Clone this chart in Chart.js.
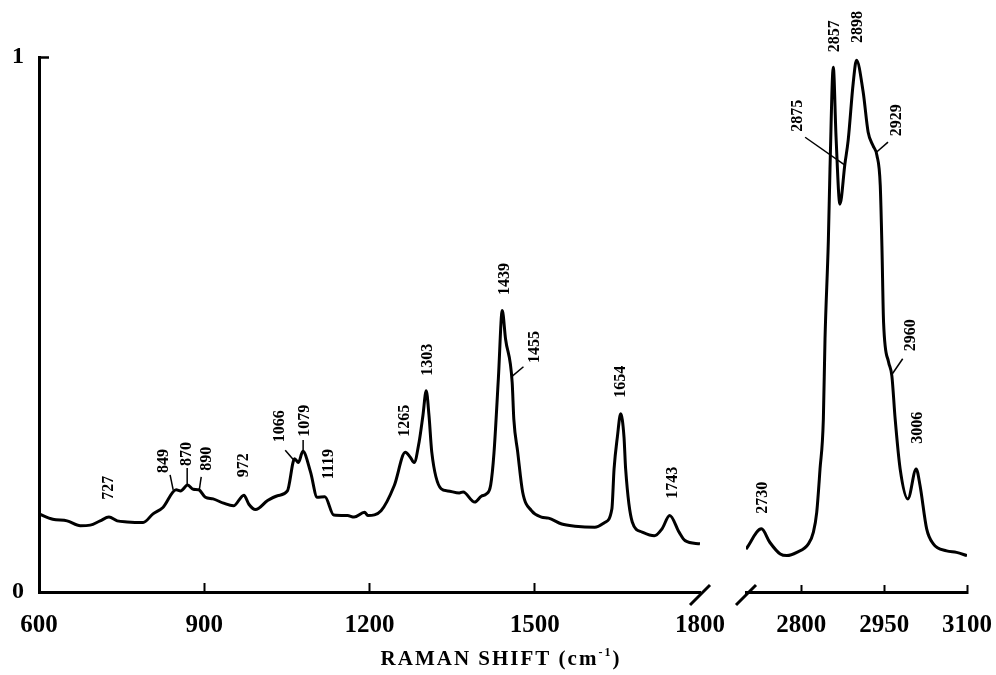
<!DOCTYPE html>
<html>
<head>
<meta charset="utf-8">
<script src="https://cdn.jsdelivr.net/npm/chart.js@4.4.1/dist/chart.umd.min.js"></script>
<style>
html,body{margin:0;padding:0;background:#fff;}
#wrap{width:996px;height:675px;}
</style>
</head>
<body>
<div id="wrap"><canvas id="c" width="996" height="675"></canvas></div>
<script>
// ---------- data ----------
const waveLow = [600,625,651,675,693,711,727,742,760,789,807,825,849,857,870,880,890,902,916,935,953,972,981,993,1015,1033,1051,1064,1071,1079,1093,1105,1119,1135,1160,1172,1191,1197,1221,1245,1265,1274,1281,1290,1297,1303,1308,1313,1330,1342,1363,1370,1391,1403,1412,1420,1426,1434,1441,1447,1459,1462,1469,1478,1494,1512,1525,1549,1573,1609,1627,1640,1644,1650,1656,1662,1665,1677,1695,1717,1731,1745,1762,1773,1800];
const intensityLow = [0.146,0.136,0.133,0.124,0.125,0.133,0.140,0.133,0.131,0.130,0.146,0.158,0.191,0.189,0.200,0.192,0.191,0.177,0.174,0.166,0.161,0.181,0.164,0.154,0.171,0.180,0.189,0.249,0.242,0.263,0.224,0.177,0.178,0.144,0.143,0.140,0.149,0.143,0.152,0.199,0.261,0.252,0.242,0.280,0.330,0.376,0.330,0.262,0.193,0.189,0.185,0.187,0.168,0.179,0.183,0.200,0.260,0.400,0.526,0.473,0.392,0.323,0.262,0.187,0.152,0.140,0.138,0.127,0.123,0.121,0.130,0.155,0.230,0.290,0.333,0.290,0.230,0.131,0.112,0.105,0.118,0.143,0.112,0.096,0.090];
const waveHigh = [2700,2728,2743,2762,2774,2792,2813,2822,2828,2834,2840,2843,2849,2852,2858,2863,2870,2879,2885,2894,2900,2912,2921,2930,2937,2943,2946,2949,2958,2964,2970,2979,2993,3008,3015,3027,3039,3063,3081,3100];
const intensityHigh = [0.080,0.118,0.093,0.071,0.068,0.074,0.090,0.112,0.149,0.230,0.323,0.473,0.655,0.790,0.981,0.850,0.725,0.800,0.845,0.951,0.994,0.935,0.860,0.834,0.816,0.760,0.647,0.504,0.430,0.404,0.323,0.230,0.174,0.230,0.199,0.118,0.090,0.077,0.074,0.068];
const xTicksLow = [600,900,1200,1500,1800];
const xTicksHigh = [2800,2950,3100];
const yTicks = [0,1];
const yTickLabels = ['0','1'];
const peakLabels = ['727','849','870','890','972','1066','1079','1119','1265','1303','1439','1455','1654','1743','2730','2857','2875','2898','2929','2960','3006'];
const axisTitle = 'RAMAN SHIFT (cm';
const axisTitleSup = '-1';

// ---------- label placement (text centre and optional leader, in axis units) ----------
const labelLayout = [
  {w:724.5,v:0.195},
  {w:825.5,v:0.245,line:[838,0.219,843.6,0.191]},
  {w:867.3,v:0.258,line:[869,0.232,869,0.200]},
  {w:903.6,v:0.249,line:[894.5,0.215,891,0.191]},
  {w:971,v:0.237},
  {w:1036,v:0.310,line:[1047,0.265,1062,0.247]},
  {w:1080,v:0.320,line:[1079.5,0.284,1079.5,0.262]},
  {w:1123.6,v:0.239},
  {w:1261.8,v:0.320},
  {w:1303.6,v:0.434},
  {w:1443.6,v:0.585},
  {w:1498,v:0.458,line:[1479.5,0.421,1457.6,0.402]},
  {w:1654.5,v:0.393},
  {w:1749,v:0.204},
  {w:2729,v:0.176},
  {w:2859,v:1.039},
  {w:2792,v:0.890,line:[2807,0.850,2879,0.798]},
  {w:2901,v:1.056},
  {w:2971.5,v:0.882,line:[2957,0.841,2935,0.821]},
  {w:2997,v:0.480,line:[2983.6,0.436,2963.7,0.406]},
  {w:3009.5,v:0.307}
];

const SERIF = '"Liberation Serif", "Times New Roman", serif';

const annotPlugin = {
  id: 'annot',
  afterDraw(chart) {
    const ctx = chart.ctx;
    const ys = chart.scales.y;
    const xL = chart.scales.xL, xH = chart.scales.xH;
    ctx.save();
    ctx.fillStyle = '#000';
    ctx.strokeStyle = '#000';
    ctx.font = 'bold 16px ' + SERIF;
    ctx.textAlign = 'center';
    ctx.textBaseline = 'middle';
    const px = w => (w >= 2700 ? xH : xL).getPixelForValue(w);
    peakLabels.forEach((t, i) => {
      const L = labelLayout[i];
      const x = px(L.w), y = ys.getPixelForValue(L.v);
      ctx.save();
      ctx.translate(x, y);
      ctx.rotate(-Math.PI / 2);
      ctx.fillText(t, 0, 1);
      ctx.restore();
      if (L.line) {
        ctx.lineWidth = 1.5;
        ctx.beginPath();
        ctx.moveTo(px(L.line[0]), ys.getPixelForValue(L.line[1]));
        ctx.lineTo(px(L.line[2]), ys.getPixelForValue(L.line[3]));
        ctx.stroke();
      }
    });
    // axis break marks
    const ay = ys.getPixelForValue(0);
    ctx.lineWidth = 3;
    [xL.right, xH.left].forEach(bx => {
      ctx.beginPath();
      ctx.moveTo(bx - 10, ay + 13);
      ctx.lineTo(bx + 10, ay - 7);
      ctx.stroke();
    });
    // axis title
    const ca = chart.chartArea;
    ctx.textAlign = 'left';
    ctx.textBaseline = 'alphabetic';
    ctx.font = 'bold 21px ' + SERIF;
    try { ctx.letterSpacing = '2px'; } catch(e) {}
    const w1 = ctx.measureText(axisTitle).width;
    ctx.font = 'bold 12px ' + SERIF;
    const w2 = ctx.measureText(axisTitleSup).width;
    ctx.font = 'bold 21px ' + SERIF;
    const w3 = ctx.measureText(')').width;
    const total = w1 + w2 + w3;
    let tx = (ca.left + ca.right) / 2 - 2 - total / 2;
    const base = 665;
    ctx.fillText(axisTitle, tx, base);
    tx += w1;
    ctx.font = 'bold 12px ' + SERIF;
    ctx.fillText(axisTitleSup, tx, base - 9);
    tx += w2;
    ctx.font = 'bold 21px ' + SERIF;
    ctx.fillText(')', tx, base);
    ctx.restore();
  }
};

const line = (xs, ys) => xs.map((x, i) => ({x: x, y: ys[i]}));
const fitX = s => { s.height = 83; s.paddingLeft = 0; s.paddingRight = 0; };

new Chart(document.getElementById('c'), {
  type: 'line',
  data: {
    datasets: [
      {data: line(waveLow, intensityLow), xAxisID: 'xL', yAxisID: 'y', borderColor: '#000', borderWidth: 3, pointRadius: 0, cubicInterpolationMode: 'monotone', fill: false},
      {data: line(waveHigh, intensityHigh), xAxisID: 'xH', yAxisID: 'y', borderColor: '#000', borderWidth: 3, pointRadius: 0, cubicInterpolationMode: 'monotone', fill: false}
    ]
  },
  options: {
    responsive: false,
    animation: false,
    devicePixelRatio: 1,
    layout: {padding: {top: 57, right: 29, left: 0, bottom: 0}},
    plugins: {legend: {display: false}, tooltip: {enabled: false}, title: {display: false}},
    scales: {
      xL: {
        type: 'linear', position: 'bottom', stack: 'x', stackWeight: 661,
        min: 600, max: 1800,
        afterBuildTicks: s => { s.ticks = xTicksLow.map(v => ({value: v})); },
        afterFit: fitX,
        border: {display: true, color: '#000', width: 3},
        grid: {display: true, drawOnChartArea: false, drawTicks: true, tickLength: -9, tickWidth: 2,
               tickColor: c => (c.tick && (c.tick.value === 600 || c.tick.value === 1800)) ? 'rgba(0,0,0,0)' : '#000'},
        ticks: {autoSkip: false, maxRotation: 0, minRotation: 0, padding: 28, color: '#000',
                font: {family: SERIF, size: 25, weight: 'bold'}, callback: v => String(v)}
      },
      xG: {
        type: 'linear', position: 'bottom', stack: 'x', stackWeight: 46,
        min: 0, max: 1,
        afterFit: fitX,
        border: {display: false},
        grid: {display: false},
        ticks: {display: false}
      },
      xH: {
        type: 'linear', position: 'bottom', stack: 'x', stackWeight: 221,
        min: 2700, max: 3100,
        afterBuildTicks: s => { s.ticks = xTicksHigh.map(v => ({value: v})); },
        afterFit: fitX,
        border: {display: true, color: '#000', width: 3},
        grid: {display: true, drawOnChartArea: false, drawTicks: true, tickLength: -7, tickWidth: 2, tickColor: '#000'},
        ticks: {autoSkip: false, maxRotation: 0, minRotation: 0, padding: 26, color: '#000',
                font: {family: SERIF, size: 25, weight: 'bold'}, callback: v => String(v)}
      },
      y: {
        type: 'linear', position: 'left', min: 0, max: 1,
        afterBuildTicks: s => { s.ticks = yTicks.map(v => ({value: v})); },
        afterFit: s => { s.width = 39; s.paddingTop = 0; s.paddingBottom = 0; },
        border: {display: true, color: '#000', width: 3},
        grid: {display: true, drawOnChartArea: false, drawTicks: true, tickLength: -10, tickWidth: 2.5,
               tickColor: c => (c.tick && c.tick.value === 1) ? '#000' : 'rgba(0,0,0,0)'},
        ticks: {padding: 25, color: '#000', font: {family: SERIF, size: 24, weight: 'bold'},
                callback: (v) => yTickLabels[yTicks.indexOf(v)]}
      }
    }
  },
  plugins: [annotPlugin]
});
</script>
</body>
</html>
